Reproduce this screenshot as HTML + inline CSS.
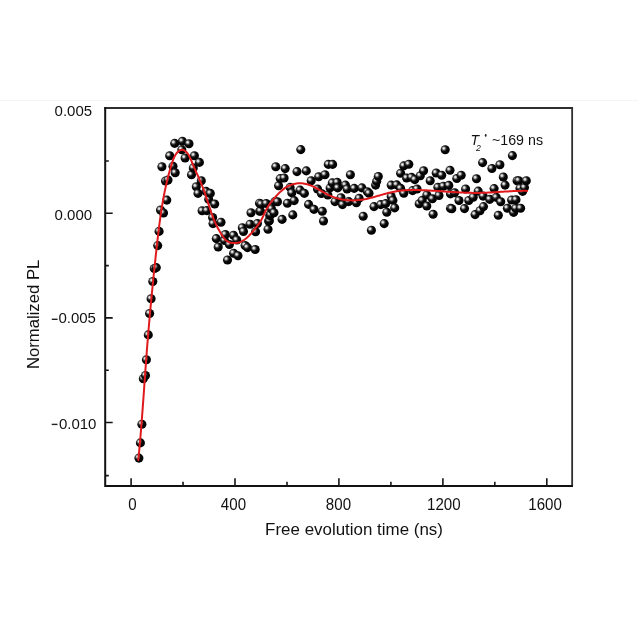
<!DOCTYPE html>
<html><head><meta charset="utf-8">
<style>
html,body{margin:0;padding:0;background:#fff;}
body{width:638px;height:638px;overflow:hidden;position:relative;}
svg{position:absolute;left:0;top:0;filter:blur(0.3px);}
text{font-family:"Liberation Sans",sans-serif;fill:#111;}
</style></head><body>
<svg width="638" height="638" viewBox="0 0 638 638">
<defs>
<radialGradient id="g" cx="0.37" cy="0.37" r="0.66" fx="0.34" fy="0.34">
<stop offset="0" stop-color="#f6f6f6"/>
<stop offset="0.15" stop-color="#d2d2d2"/>
<stop offset="0.34" stop-color="#444"/>
<stop offset="0.52" stop-color="#080808"/>
<stop offset="1" stop-color="#000"/>
</radialGradient>
</defs>
<rect x="0" y="100" width="638" height="1" fill="#f4f4f4"/>
<!-- frame -->
<path d="M104.2 108H572.15V486.8" fill="none" stroke="#2e2e2e" stroke-width="1.8"/>
<path d="M105.2 107.2V485.9H573" fill="none" stroke="#111" stroke-width="2"/>
<g stroke="#151515" stroke-width="1.6">
<path d="M105 213.3h7.7M105 317.9h7.7M105 422.5h7.7M105 161h3.8M105 265.6h3.8M105 370.2h3.8M105 475.6h3.8"/>
<path d="M131.1 486v-7.8M235 486v-7.8M338.9 486v-7.8M442.9 486v-7.8M546.8 486v-7.8M183.05 486v-4.2M287 486v-4.2M390.9 486v-4.2M494.8 486v-4.2"/>
</g>
<!-- y labels -->
<g font-size="15">
<text x="54.6" y="116.1">0.005</text>
<text x="54.6" y="220.4">0.000</text>
<text x="58.4" y="323.4">0.005</text>
<text x="58.9" y="428.6">0.010</text>
</g>
<rect x="51.8" y="318.6" width="5.8" height="1.4" fill="#222"/>
<rect x="51.7" y="423.7" width="5.8" height="1.4" fill="#222"/>
<g font-size="15.1" text-anchor="middle">
<text transform="translate(132.4,509.7) scale(1,1.09)">0</text>
<text transform="translate(233.45,509.7) scale(1,1.09)">400</text>
<text transform="translate(338.45,509.7) scale(1,1.09)">800</text>
<text transform="translate(443.8,509.7) scale(1,1.09)">1200</text>
<text transform="translate(545.05,509.7) scale(1,1.09)">1600</text>
</g>
<text transform="translate(354.05,534.8) scale(1.04,1)" font-size="16.3" text-anchor="middle">Free evolution time (ns)</text>
<text transform="translate(39,314.4) rotate(-90)" font-size="16.7" text-anchor="middle">Normalized PL</text>
<!-- annotation -->
<text transform="translate(470.4,144.7) scale(0.9,1)" font-size="15.5" font-style="italic">T</text>
<text transform="translate(475.9,150.6) scale(0.87,0.96)" font-size="10" font-style="italic" fill="#444">2</text>
<ellipse cx="485.7" cy="135.4" rx="0.9" ry="1.3" fill="#222"/>
<text x="492" y="145" font-size="15" textLength="51" lengthAdjust="spacingAndGlyphs">~169 ns</text>

<g fill="url(#g)">
<circle cx="138.9" cy="458.1" r="4.55"/>
<circle cx="140.4" cy="442.9" r="4.55"/>
<circle cx="141.9" cy="424.2" r="4.55"/>
<circle cx="143.3" cy="378.8" r="4.55"/>
<circle cx="145.5" cy="375.5" r="4.55"/>
<circle cx="146.4" cy="359.8" r="4.55"/>
<circle cx="148.3" cy="334.9" r="4.55"/>
<circle cx="149.6" cy="313.5" r="4.55"/>
<circle cx="151.1" cy="298.8" r="4.55"/>
<circle cx="152.8" cy="281.5" r="4.55"/>
<circle cx="154.3" cy="268.5" r="4.55"/>
<circle cx="156.3" cy="267.6" r="4.55"/>
<circle cx="157.7" cy="245.6" r="4.55"/>
<circle cx="159.1" cy="231.4" r="4.55"/>
<circle cx="160.5" cy="210.0" r="4.55"/>
<circle cx="161.9" cy="166.8" r="4.55"/>
<circle cx="163.5" cy="213.0" r="4.55"/>
<circle cx="165.5" cy="181.0" r="4.55"/>
<circle cx="166.8" cy="200.1" r="4.55"/>
<circle cx="168.0" cy="180.0" r="4.55"/>
<circle cx="169.7" cy="155.8" r="4.55"/>
<circle cx="173.0" cy="166.2" r="4.55"/>
<circle cx="174.7" cy="143.4" r="4.55"/>
<circle cx="175.2" cy="172.8" r="4.55"/>
<circle cx="181.8" cy="149.7" r="4.55"/>
<circle cx="182.4" cy="141.3" r="4.55"/>
<circle cx="185.1" cy="158.0" r="4.55"/>
<circle cx="189.0" cy="143.7" r="4.55"/>
<circle cx="191.5" cy="174.8" r="4.55"/>
<circle cx="193.3" cy="167.9" r="4.55"/>
<circle cx="194.4" cy="155.8" r="4.55"/>
<circle cx="196.3" cy="186.8" r="4.55"/>
<circle cx="198.0" cy="193.4" r="4.55"/>
<circle cx="199.4" cy="162.4" r="4.55"/>
<circle cx="201.3" cy="180.7" r="4.55"/>
<circle cx="202.1" cy="210.8" r="4.55"/>
<circle cx="206.0" cy="191.4" r="4.55"/>
<circle cx="206.8" cy="210.6" r="4.55"/>
<circle cx="208.7" cy="199.4" r="4.55"/>
<circle cx="210.3" cy="193.4" r="4.55"/>
<circle cx="212.6" cy="217.5" r="4.55"/>
<circle cx="213.0" cy="223.6" r="4.55"/>
<circle cx="214.7" cy="204.0" r="4.55"/>
<circle cx="216.3" cy="238.6" r="4.55"/>
<circle cx="218.2" cy="247.0" r="4.55"/>
<circle cx="221.0" cy="222.2" r="4.55"/>
<circle cx="224.5" cy="240.5" r="4.55"/>
<circle cx="225.3" cy="234.5" r="4.55"/>
<circle cx="227.5" cy="260.0" r="4.55"/>
<circle cx="229.4" cy="244.5" r="4.55"/>
<circle cx="233.5" cy="235.3" r="4.55"/>
<circle cx="233.6" cy="253.2" r="4.55"/>
<circle cx="236.8" cy="240.0" r="4.55"/>
<circle cx="238.0" cy="255.7" r="4.55"/>
<circle cx="242.3" cy="227.7" r="4.55"/>
<circle cx="243.5" cy="231.5" r="4.55"/>
<circle cx="245.1" cy="245.5" r="4.55"/>
<circle cx="247.5" cy="247.6" r="4.55"/>
<circle cx="250.0" cy="224.2" r="4.55"/>
<circle cx="251.0" cy="212.8" r="4.55"/>
<circle cx="255.2" cy="249.5" r="4.55"/>
<circle cx="255.6" cy="231.8" r="4.55"/>
<circle cx="257.4" cy="223.5" r="4.55"/>
<circle cx="259.5" cy="203.2" r="4.55"/>
<circle cx="259.7" cy="211.2" r="4.55"/>
<circle cx="260.4" cy="211.0" r="4.55"/>
<circle cx="261.1" cy="204.1" r="4.55"/>
<circle cx="266.2" cy="203.5" r="4.55"/>
<circle cx="268.0" cy="229.3" r="4.55"/>
<circle cx="268.6" cy="221.0" r="4.55"/>
<circle cx="269.4" cy="220.7" r="4.55"/>
<circle cx="269.7" cy="215.5" r="4.55"/>
<circle cx="270.6" cy="214.8" r="4.55"/>
<circle cx="271.4" cy="208.8" r="4.55"/>
<circle cx="274.0" cy="212.7" r="4.55"/>
<circle cx="274.8" cy="201.6" r="4.55"/>
<circle cx="275.8" cy="166.7" r="4.55"/>
<circle cx="277.5" cy="201.8" r="4.55"/>
<circle cx="278.6" cy="185.7" r="4.55"/>
<circle cx="280.2" cy="178.6" r="4.55"/>
<circle cx="282.1" cy="219.4" r="4.55"/>
<circle cx="284.1" cy="178.0" r="4.55"/>
<circle cx="285.2" cy="168.6" r="4.55"/>
<circle cx="287.4" cy="203.2" r="4.55"/>
<circle cx="290.1" cy="187.4" r="4.55"/>
<circle cx="291.8" cy="192.9" r="4.55"/>
<circle cx="292.8" cy="214.9" r="4.55"/>
<circle cx="294.2" cy="200.6" r="4.55"/>
<circle cx="297.0" cy="171.6" r="4.55"/>
<circle cx="300.0" cy="190.1" r="4.55"/>
<circle cx="300.8" cy="149.6" r="4.55"/>
<circle cx="304.4" cy="193.4" r="4.55"/>
<circle cx="306.3" cy="170.9" r="4.55"/>
<circle cx="308.6" cy="204.4" r="4.55"/>
<circle cx="311.2" cy="180.8" r="4.55"/>
<circle cx="314.0" cy="209.4" r="4.55"/>
<circle cx="317.5" cy="189.0" r="4.55"/>
<circle cx="318.7" cy="176.8" r="4.55"/>
<circle cx="321.4" cy="193.5" r="4.55"/>
<circle cx="322.3" cy="211.2" r="4.55"/>
<circle cx="323.5" cy="221.0" r="4.55"/>
<circle cx="325.0" cy="174.7" r="4.55"/>
<circle cx="327.9" cy="195.0" r="4.55"/>
<circle cx="328.3" cy="164.4" r="4.55"/>
<circle cx="330.1" cy="187.9" r="4.55"/>
<circle cx="332.3" cy="182.9" r="4.55"/>
<circle cx="332.6" cy="164.4" r="4.55"/>
<circle cx="335.0" cy="201.6" r="4.55"/>
<circle cx="337.2" cy="182.4" r="4.55"/>
<circle cx="337.7" cy="187.9" r="4.55"/>
<circle cx="341.0" cy="197.7" r="4.55"/>
<circle cx="342.5" cy="204.6" r="4.55"/>
<circle cx="345.4" cy="185.1" r="4.55"/>
<circle cx="347.1" cy="189.0" r="4.55"/>
<circle cx="348.7" cy="201.6" r="4.55"/>
<circle cx="350.4" cy="174.7" r="4.55"/>
<circle cx="354.2" cy="188.4" r="4.55"/>
<circle cx="356.4" cy="202.7" r="4.55"/>
<circle cx="359.1" cy="198.3" r="4.55"/>
<circle cx="361.9" cy="187.9" r="4.55"/>
<circle cx="363.2" cy="216.2" r="4.55"/>
<circle cx="367.4" cy="191.7" r="4.55"/>
<circle cx="369.0" cy="193.3" r="4.55"/>
<circle cx="371.4" cy="230.2" r="4.55"/>
<circle cx="374.0" cy="206.6" r="4.55"/>
<circle cx="375.6" cy="185.1" r="4.55"/>
<circle cx="376.7" cy="181.3" r="4.55"/>
<circle cx="378.3" cy="176.5" r="4.55"/>
<circle cx="380.7" cy="204.6" r="4.55"/>
<circle cx="384.2" cy="223.6" r="4.55"/>
<circle cx="385.7" cy="203.6" r="4.55"/>
<circle cx="386.8" cy="212.2" r="4.55"/>
<circle cx="391.2" cy="185.1" r="4.55"/>
<circle cx="391.2" cy="196.5" r="4.55"/>
<circle cx="392.9" cy="200.4" r="4.55"/>
<circle cx="394.7" cy="207.9" r="4.55"/>
<circle cx="396.7" cy="184.9" r="4.55"/>
<circle cx="400.6" cy="173.3" r="4.55"/>
<circle cx="400.6" cy="188.4" r="4.55"/>
<circle cx="403.8" cy="165.9" r="4.55"/>
<circle cx="403.8" cy="193.3" r="4.55"/>
<circle cx="406.6" cy="178.0" r="4.55"/>
<circle cx="408.8" cy="164.3" r="4.55"/>
<circle cx="411.5" cy="177.4" r="4.55"/>
<circle cx="412.6" cy="190.6" r="4.55"/>
<circle cx="414.8" cy="179.6" r="4.55"/>
<circle cx="417.0" cy="189.0" r="4.55"/>
<circle cx="419.2" cy="203.8" r="4.55"/>
<circle cx="420.3" cy="175.8" r="4.55"/>
<circle cx="422.2" cy="200.4" r="4.55"/>
<circle cx="423.6" cy="170.8" r="4.55"/>
<circle cx="426.8" cy="206.0" r="4.55"/>
<circle cx="426.9" cy="195.0" r="4.55"/>
<circle cx="430.2" cy="180.7" r="4.55"/>
<circle cx="432.4" cy="198.8" r="4.55"/>
<circle cx="433.1" cy="214.3" r="4.55"/>
<circle cx="436.2" cy="173.0" r="4.55"/>
<circle cx="437.9" cy="187.3" r="4.55"/>
<circle cx="439.0" cy="195.5" r="4.55"/>
<circle cx="441.7" cy="175.2" r="4.55"/>
<circle cx="443.3" cy="186.2" r="4.55"/>
<circle cx="445.2" cy="149.8" r="4.55"/>
<circle cx="448.8" cy="185.4" r="4.55"/>
<circle cx="450.0" cy="170.3" r="4.55"/>
<circle cx="450.5" cy="193.9" r="4.55"/>
<circle cx="450.5" cy="208.4" r="4.55"/>
<circle cx="451.8" cy="208.7" r="4.55"/>
<circle cx="454.6" cy="192.8" r="4.55"/>
<circle cx="456.8" cy="178.5" r="4.55"/>
<circle cx="459.0" cy="200.5" r="4.55"/>
<circle cx="461.2" cy="175.2" r="4.55"/>
<circle cx="464.5" cy="208.6" r="4.55"/>
<circle cx="465.6" cy="189.0" r="4.55"/>
<circle cx="468.8" cy="200.5" r="4.55"/>
<circle cx="473.2" cy="197.2" r="4.55"/>
<circle cx="475.1" cy="214.6" r="4.55"/>
<circle cx="476.5" cy="178.7" r="4.55"/>
<circle cx="478.2" cy="191.1" r="4.55"/>
<circle cx="480.0" cy="210.7" r="4.55"/>
<circle cx="482.6" cy="162.6" r="4.55"/>
<circle cx="483.1" cy="196.1" r="4.55"/>
<circle cx="483.5" cy="206.6" r="4.55"/>
<circle cx="489.7" cy="199.4" r="4.55"/>
<circle cx="491.9" cy="168.5" r="4.55"/>
<circle cx="494.1" cy="188.6" r="4.55"/>
<circle cx="496.3" cy="197.4" r="4.55"/>
<circle cx="498.3" cy="215.3" r="4.55"/>
<circle cx="499.9" cy="164.8" r="4.55"/>
<circle cx="500.7" cy="201.8" r="4.55"/>
<circle cx="503.3" cy="177.0" r="4.55"/>
<circle cx="505.1" cy="185.1" r="4.55"/>
<circle cx="507.4" cy="208.2" r="4.55"/>
<circle cx="511.6" cy="200.0" r="4.55"/>
<circle cx="512.4" cy="155.6" r="4.55"/>
<circle cx="513.6" cy="212.4" r="4.55"/>
<circle cx="515.7" cy="208.3" r="4.55"/>
<circle cx="516.0" cy="199.8" r="4.55"/>
<circle cx="517.1" cy="180.7" r="4.55"/>
<circle cx="518.8" cy="180.7" r="4.55"/>
<circle cx="520.0" cy="188.2" r="4.55"/>
<circle cx="520.6" cy="208.2" r="4.55"/>
<circle cx="522.6" cy="191.4" r="4.55"/>
<circle cx="524.5" cy="187.6" r="4.55"/>
<circle cx="526.3" cy="180.7" r="4.55"/>
</g>
<path d="M138.30 460.00 L138.43 458.75 L138.55 457.50 L138.67 456.25 L138.80 455.00 L138.92 453.75 L139.04 452.50 L139.15 451.25 L139.27 450.00 L139.39 448.75 L139.50 447.50 L139.61 446.25 L139.73 445.00 L139.84 443.75 L139.95 442.49 L140.06 441.24 L140.17 439.99 L140.28 438.74 L140.38 437.49 L140.49 436.24 L140.60 434.98 L140.70 433.73 L140.81 432.48 L140.91 431.23 L141.01 429.98 L141.11 428.72 L141.21 427.47 L141.31 426.22 L141.41 424.97 L141.51 423.71 L141.61 422.46 L141.71 421.21 L141.81 419.96 L141.90 418.70 L142.00 417.45 L142.09 416.20 L142.19 414.94 L142.28 413.69 L142.38 412.44 L142.47 411.19 L142.57 409.93 L142.66 408.68 L142.75 407.43 L142.84 406.17 L142.93 404.92 L143.03 403.67 L143.12 402.41 L143.21 401.16 L143.30 399.91 L143.39 398.65 L143.48 397.40 L143.57 396.15 L143.66 394.89 L143.75 393.64 L143.84 392.38 L143.93 391.13 L144.02 389.88 L144.11 388.62 L144.19 387.37 L144.28 386.12 L144.37 384.86 L144.46 383.61 L144.55 382.36 L144.64 381.10 L144.73 379.85 L144.82 378.60 L144.91 377.34 L145.00 376.09 L145.09 374.84 L145.17 373.58 L145.26 372.33 L145.35 371.08 L145.44 369.82 L145.53 368.57 L145.63 367.32 L145.72 366.07 L145.81 364.81 L145.90 363.56 L145.99 362.31 L146.08 361.05 L146.18 359.80 L146.27 358.55 L146.36 357.30 L146.46 356.04 L146.55 354.79 L146.65 353.54 L146.74 352.29 L146.84 351.03 L146.93 349.78 L147.03 348.53 L147.13 347.28 L147.22 346.03 L147.32 344.77 L147.42 343.52 L147.52 342.27 L147.62 341.02 L147.72 339.77 L147.83 338.52 L147.93 337.27 L148.03 336.02 L148.13 334.76 L148.24 333.51 L148.34 332.26 L148.45 331.01 L148.55 329.76 L148.66 328.51 L148.77 327.26 L148.88 326.01 L148.98 324.76 L149.09 323.51 L149.20 322.26 L149.31 321.01 L149.42 319.76 L149.53 318.51 L149.64 317.26 L149.76 316.01 L149.87 314.76 L149.98 313.51 L150.10 312.26 L150.21 311.01 L150.33 309.76 L150.44 308.51 L150.56 307.26 L150.67 306.01 L150.79 304.76 L150.91 303.51 L151.03 302.26 L151.14 301.01 L151.26 299.76 L151.38 298.51 L151.50 297.26 L151.62 296.01 L151.75 294.76 L151.87 293.52 L151.99 292.27 L152.11 291.02 L152.23 289.77 L152.36 288.52 L152.48 287.27 L152.61 286.02 L152.73 284.77 L152.86 283.52 L152.98 282.27 L153.11 281.02 L153.23 279.77 L153.36 278.52 L153.49 277.27 L153.62 276.02 L153.75 274.77 L153.88 273.52 L154.00 272.27 L154.13 271.02 L154.26 269.77 L154.40 268.52 L154.53 267.27 L154.66 266.03 L154.79 264.78 L154.92 263.53 L155.05 262.28 L155.19 261.03 L155.32 259.78 L155.46 258.53 L155.59 257.28 L155.72 256.02 L155.86 254.77 L155.99 253.52 L156.13 252.27 L156.27 251.02 L156.40 249.77 L156.54 248.52 L156.68 247.27 L156.82 246.02 L156.95 244.77 L157.09 243.52 L157.23 242.27 L157.37 241.02 L157.52 239.77 L157.66 238.52 L157.80 237.27 L157.95 236.02 L158.10 234.77 L158.25 233.52 L158.39 232.27 L158.55 231.02 L158.70 229.77 L158.85 228.52 L159.01 227.27 L159.17 226.03 L159.33 224.78 L159.49 223.53 L159.66 222.29 L159.83 221.04 L160.00 219.79 L160.17 218.55 L160.34 217.30 L160.52 216.06 L160.70 214.82 L160.88 213.57 L161.07 212.33 L161.26 211.09 L161.45 209.85 L161.65 208.61 L161.84 207.37 L162.05 206.13 L162.25 204.89 L162.46 203.65 L162.67 202.41 L162.89 201.18 L163.11 199.94 L163.33 198.71 L163.56 197.47 L163.79 196.24 L164.03 195.01 L164.27 193.78 L164.51 192.55 L164.76 191.32 L165.01 190.09 L165.27 188.87 L165.53 187.64 L165.80 186.42 L166.07 185.19 L166.35 183.97 L166.63 182.75 L166.92 181.53 L167.21 180.31 L167.51 179.09 L167.81 177.88 L168.12 176.66 L168.44 175.45 L168.75 174.23 L169.08 173.02 L169.41 171.81 L169.75 170.61 L170.09 169.40 L170.44 168.19 L170.80 166.99 L171.16 165.79 L171.52 164.58 L171.90 163.39 L172.28 162.19 L172.67 160.99 L173.10 159.80 L173.56 158.63 L174.06 157.46 L174.63 156.30 L175.27 155.17 L176.00 154.05 L176.82 152.96 L177.72 151.95 L178.69 151.07 L179.72 150.37 L180.80 149.93 L181.91 149.79 L183.02 149.97 L184.12 150.41 L185.18 151.06 L186.15 151.86 L187.04 152.76 L187.83 153.75 L188.54 154.81 L189.19 155.93 L189.78 157.09 L190.32 158.29 L190.84 159.51 L191.34 160.73 L191.83 161.94 L192.31 163.14 L192.81 164.32 L193.30 165.49 L193.79 166.64 L194.29 167.79 L194.79 168.92 L195.29 170.05 L195.79 171.18 L196.30 172.31 L196.80 173.43 L197.31 174.56 L197.81 175.70 L198.32 176.83 L198.83 177.98 L199.33 179.12 L199.83 180.27 L200.33 181.43 L200.82 182.58 L201.30 183.75 L201.78 184.91 L202.25 186.08 L202.71 187.26 L203.17 188.43 L203.61 189.62 L204.04 190.80 L204.46 191.99 L204.88 193.18 L205.29 194.37 L205.69 195.57 L206.09 196.77 L206.49 197.97 L206.88 199.16 L207.27 200.37 L207.65 201.57 L208.04 202.77 L208.42 203.97 L208.81 205.16 L209.20 206.36 L209.59 207.56 L209.98 208.75 L210.38 209.94 L210.78 211.13 L211.19 212.32 L211.61 213.50 L212.03 214.68 L212.47 215.86 L212.91 217.03 L213.36 218.19 L213.82 219.35 L214.30 220.51 L214.79 221.66 L215.29 222.80 L215.80 223.94 L216.33 225.07 L216.88 226.19 L217.44 227.30 L218.03 228.41 L218.63 229.51 L219.24 230.60 L219.87 231.68 L220.52 232.75 L221.18 233.82 L221.85 234.89 L222.54 235.95 L223.23 237.00 L223.95 238.02 L224.73 239.00 L225.57 239.90 L226.50 240.72 L227.54 241.42 L228.70 241.99 L229.93 242.45 L231.22 242.78 L232.54 243.00 L233.86 243.11 L235.16 243.10 L236.42 243.00 L237.64 242.79 L238.83 242.49 L239.98 242.10 L241.09 241.63 L242.18 241.09 L243.23 240.48 L244.25 239.80 L245.25 239.07 L246.23 238.29 L247.18 237.46 L248.11 236.59 L249.02 235.69 L249.91 234.76 L250.79 233.82 L251.66 232.86 L252.51 231.89 L253.35 230.91 L254.18 229.93 L255.00 228.95 L255.80 227.95 L256.58 226.95 L257.34 225.95 L258.08 224.93 L258.80 223.90 L259.50 222.86 L260.17 221.81 L260.81 220.75 L261.42 219.68 L262.01 218.59 L262.56 217.48 L263.09 216.36 L263.60 215.24 L264.11 214.11 L264.63 212.98 L265.15 211.85 L265.70 210.73 L266.27 209.62 L266.88 208.51 L267.52 207.42 L268.18 206.34 L268.88 205.27 L269.60 204.21 L270.34 203.17 L271.11 202.14 L271.89 201.12 L272.69 200.12 L273.51 199.13 L274.34 198.15 L275.18 197.19 L276.03 196.24 L276.88 195.31 L277.75 194.39 L278.61 193.49 L279.49 192.62 L280.38 191.76 L281.28 190.93 L282.20 190.13 L283.14 189.36 L284.10 188.63 L285.08 187.93 L286.08 187.26 L287.12 186.65 L288.18 186.07 L289.27 185.54 L290.40 185.06 L291.57 184.63 L292.77 184.26 L294.01 183.94 L295.30 183.69 L296.61 183.49 L297.95 183.36 L299.29 183.29 L300.63 183.29 L301.94 183.35 L303.23 183.48 L304.50 183.67 L305.74 183.92 L306.96 184.22 L308.16 184.57 L309.35 184.97 L310.51 185.41 L311.67 185.89 L312.81 186.40 L313.94 186.94 L315.05 187.51 L316.16 188.10 L317.27 188.70 L318.36 189.32 L319.46 189.95 L320.55 190.59 L321.64 191.23 L322.73 191.86 L323.82 192.49 L324.92 193.11 L326.03 193.72 L327.14 194.30 L328.25 194.87 L329.38 195.41 L330.52 195.92 L331.67 196.40 L332.83 196.85 L334.00 197.28 L335.18 197.67 L336.37 198.04 L337.57 198.38 L338.77 198.70 L339.98 198.99 L341.19 199.25 L342.42 199.48 L343.64 199.68 L344.87 199.86 L346.11 200.01 L347.35 200.14 L348.59 200.24 L349.84 200.31 L351.08 200.36 L352.33 200.38 L353.58 200.38 L354.83 200.35 L356.08 200.30 L357.33 200.22 L358.58 200.11 L359.82 199.99 L361.07 199.83 L362.31 199.65 L363.55 199.45 L364.78 199.23 L366.02 198.99 L367.25 198.72 L368.48 198.44 L369.70 198.15 L370.93 197.84 L372.15 197.52 L373.37 197.19 L374.59 196.85 L375.81 196.51 L377.03 196.16 L378.25 195.80 L379.47 195.45 L380.69 195.09 L381.91 194.74 L383.12 194.39 L384.34 194.04 L385.56 193.70 L386.78 193.37 L388.01 193.05 L389.23 192.74 L390.45 192.44 L391.68 192.16 L392.91 191.90 L394.14 191.65 L395.37 191.43 L396.60 191.22 L397.84 191.03 L399.08 190.86 L400.32 190.71 L401.56 190.57 L402.81 190.45 L404.05 190.34 L405.30 190.25 L406.55 190.18 L407.80 190.11 L409.05 190.06 L410.30 190.03 L411.55 190.00 L412.81 189.98 L414.06 189.98 L415.32 189.98 L416.57 190.00 L417.83 190.02 L419.09 190.05 L420.34 190.08 L421.60 190.13 L422.86 190.18 L424.11 190.23 L425.37 190.29 L426.63 190.35 L427.88 190.42 L429.14 190.49 L430.39 190.56 L431.65 190.63 L432.90 190.71 L434.16 190.79 L435.41 190.87 L436.67 190.95 L437.92 191.03 L439.17 191.12 L440.43 191.20 L441.68 191.29 L442.93 191.37 L444.18 191.46 L445.44 191.55 L446.69 191.63 L447.94 191.72 L449.19 191.80 L450.45 191.88 L451.70 191.96 L452.95 192.04 L454.20 192.12 L455.45 192.19 L456.71 192.27 L457.96 192.34 L459.21 192.40 L460.46 192.47 L461.71 192.53 L462.97 192.59 L464.22 192.64 L465.47 192.69 L466.72 192.73 L467.98 192.77 L469.23 192.81 L470.48 192.84 L471.74 192.87 L472.99 192.88 L474.24 192.90 L475.50 192.91 L476.75 192.91 L478.01 192.90 L479.26 192.89 L480.52 192.87 L481.78 192.84 L483.03 192.81 L484.29 192.77 L485.55 192.73 L486.80 192.67 L488.06 192.62 L489.32 192.55 L490.58 192.49 L491.84 192.42 L493.09 192.35 L494.35 192.27 L495.61 192.19 L496.87 192.11 L498.13 192.03 L499.38 191.95 L500.64 191.87 L501.90 191.79 L503.16 191.70 L504.42 191.62 L505.67 191.54 L506.93 191.47 L508.19 191.39 L509.45 191.32 L510.70 191.25 L511.96 191.19 L513.21 191.12 L514.47 191.07 L515.72 191.02 L516.98 190.97 L518.23 190.94 L519.48 190.90 L520.74 190.88 L521.99 190.86 L523.24 190.85 L524.49 190.85 L525.74 190.86 L526.99 190.88" fill="none" stroke="#e01a1c" stroke-width="2" stroke-linejoin="round" stroke-linecap="round"/>
</svg>
</body></html>
